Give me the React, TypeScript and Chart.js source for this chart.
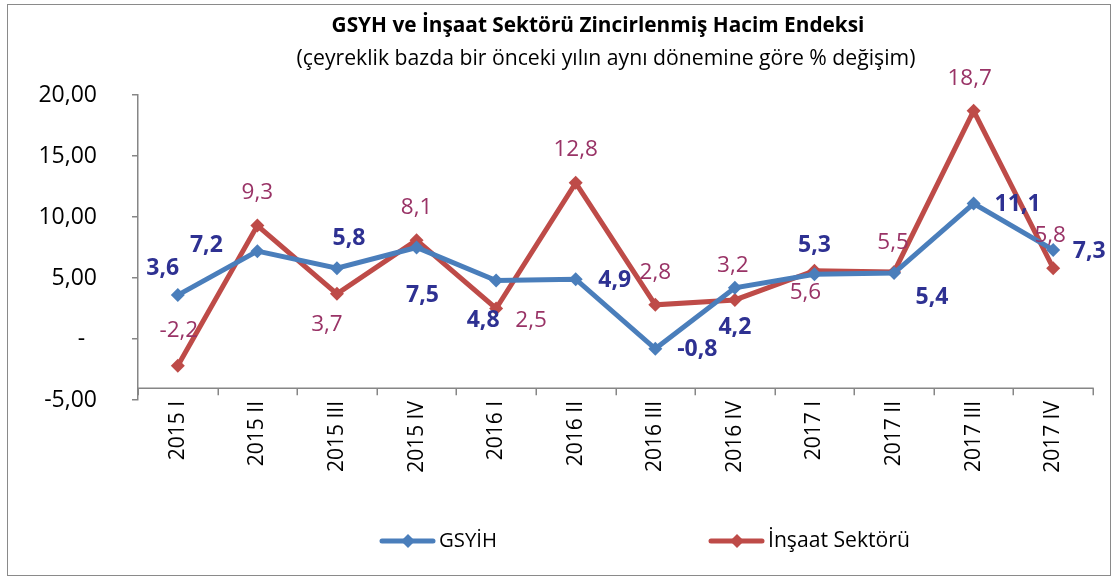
import React, { useEffect, useRef } from "react";
import { Chart, registerables } from "chart.js";

Chart.register(...registerables);

const categories = [
  "2015 I", "2015 II", "2015 III", "2015 IV",
  "2016 I", "2016 II", "2016 III", "2016 IV",
  "2017 I", "2017 II", "2017 III", "2017 IV",
];
const gsyhValues = [3.6, 7.2, 5.8, 7.5, 4.8, 4.9, -0.8, 4.2, 5.3, 5.4, 11.1, 7.3];
const insaatValues = [-2.2, 9.3, 3.7, 8.1, 2.5, 12.8, 2.8, 3.2, 5.6, 5.5, 18.7, 5.8];
const yTickValues = [-5, 0, 5, 10, 15, 20];
const xAxisCrossValue = -4;
const seriesNames = ["GSYİH", "İnşaat Sektörü"];
const titleText = "GSYH ve İnşaat Sektörü Zincirlenmiş Hacim Endeksi";
const subtitleText = "(çeyreklik bazda bir önceki yılın aynı dönemine göre % değişim)";

// data-label placement relative to each point (pixels)
const gsyhLabelOffsets = [
  [-15, -27], [-51, -6], [12, -30], [6, 48], [-13, 40], [39, 1],
  [42, 1], [0, 40], [0, -29], [38, 24], [44, 1], [36, 2],
];
const insaatLabelOffsets = [
  [1, -35], [0, -33], [-10, 31], [0, -33], [35, 12], [0, -33],
  [0, -32], [-2, -34], [-9, 22], [-1, -29], [-4, -32], [-3, -33],
];

const FONT = '"Open Sans", "DejaVu Sans", sans-serif';
const BLUE = "#4A7EBB";
const RED = "#BE4B48";
const BLUE_LABEL = "#2E3192";
const RED_LABEL = "#993366";
const AXIS = "#868686";

const fmt1 = (v: number) => v.toFixed(1).replace(".", ",");
const fmt2 = (v: number) => v.toFixed(2).replace(".", ",");

function fitSize(ctx: CanvasRenderingContext2D, text: string, weight: string, target: number) {
  ctx.font = `${weight} 100px ${FONT}`;
  const w = ctx.measureText(text).width;
  return (100 * target) / w;
}

const framePlugin = {
  id: "frame",
  beforeDraw(chart: any) {
    const ctx = chart.ctx as CanvasRenderingContext2D;
    ctx.save();
    ctx.fillStyle = "#ffffff";
    ctx.fillRect(0, 0, chart.width, chart.height);
    ctx.strokeStyle = "#8a8a8a";
    ctx.lineWidth = 1;
    ctx.strokeRect(7.5, 4.5, 1103, 571);
    ctx.restore();
  },
};

// horizontal category axis crossing the value axis at xAxisCrossValue
const crossAxisPlugin = {
  id: "crossAxis",
  beforeDatasetsDraw(chart: any) {
    const ctx = chart.ctx as CanvasRenderingContext2D;
    const xs = chart.scales.x;
    const ys = chart.scales.y;
    const y = Math.round(ys.getPixelForValue(xAxisCrossValue)) + 0.25;
    ctx.save();
    ctx.strokeStyle = AXIS;
    ctx.lineWidth = 1.5;
    ctx.beginPath();
    ctx.moveTo(xs.left, y);
    ctx.lineTo(xs.right + 0.75, y);
    for (let i = 0; i <= categories.length; i++) {
      const xp = Math.round(xs.getPixelForValue(i - 0.5)) + 0.25;
      ctx.moveTo(xp, y);
      ctx.lineTo(xp, y + 7);
    }
    ctx.stroke();
    ctx.restore();
  },
};

const textPlugin = {
  id: "texts",
  afterDraw(chart: any) {
    const ctx = chart.ctx as CanvasRenderingContext2D;
    ctx.save();
    ctx.fillStyle = "#000";
    ctx.textBaseline = "middle";
    ctx.textAlign = "center";
    let s = fitSize(ctx, titleText, "bold", 533);
    ctx.font = `bold ${s}px ${FONT}`;
    ctx.fillText(titleText, 598, 26);
    s = fitSize(ctx, subtitleText, "normal", 619);
    ctx.font = `normal ${s}px ${FONT}`;
    ctx.fillText(subtitleText, 606, 59);

    // legend
    const entries = [
      { name: seriesNames[0], color: BLUE, x: 380, w: 58 },
      { name: seriesNames[1], color: RED, x: 709, w: 142 },
    ];
    const ly = 541;
    entries.forEach((e) => {
      ctx.strokeStyle = e.color;
      ctx.lineWidth = 5;
      ctx.lineCap = "round";
      ctx.beginPath();
      ctx.moveTo(e.x + 2, ly);
      ctx.lineTo(e.x + 53, ly);
      ctx.stroke();
      ctx.fillStyle = e.color;
      ctx.beginPath();
      const cx = e.x + 28;
      ctx.moveTo(cx, ly - 7);
      ctx.lineTo(cx + 7, ly);
      ctx.lineTo(cx, ly + 7);
      ctx.lineTo(cx - 7, ly);
      ctx.closePath();
      ctx.fill();
      ctx.fillStyle = "#000";
      ctx.textAlign = "left";
      const fs = fitSize(ctx, e.name, "normal", e.w);
      ctx.font = `normal ${fs}px ${FONT}`;
      ctx.fillText(e.name, e.x + 59, ly);
    });
    ctx.restore();
  },
};

const labelPlugin = {
  id: "dataLabels",
  afterDatasetsDraw(chart: any) {
    const ctx = chart.ctx as CanvasRenderingContext2D;
    const conf = [
      { offsets: gsyhLabelOffsets, color: BLUE_LABEL, weight: "bold", size: 23 },
      { offsets: insaatLabelOffsets, color: RED_LABEL, weight: "normal", size: 22.5 },
    ];
    ctx.save();
    ctx.textAlign = "center";
    ctx.textBaseline = "middle";
    chart.data.datasets.forEach((ds: any, di: number) => {
      const meta = chart.getDatasetMeta(di);
      const c = conf[di];
      ctx.fillStyle = c.color;
      ctx.font = `${c.weight} ${c.size}px ${FONT}`;
      meta.data.forEach((el: any, i: number) => {
        const [dx, dy] = c.offsets[i];
        ctx.fillText(fmt1(ds.data[i]), el.x + dx, el.y + dy);
      });
    });
    ctx.restore();
  },
};

export default function App() {
  const ref = useRef<HTMLCanvasElement | null>(null);
  useEffect(() => {
    if (!ref.current) return;
    const chart = new Chart(ref.current, {
      type: "line",
      data: {
        labels: categories,
        datasets: [
          {
            label: seriesNames[0],
            data: gsyhValues,
            borderColor: BLUE,
            backgroundColor: BLUE,
            borderWidth: 5,
            pointStyle: "rectRot",
            pointRadius: 7,
            pointBorderWidth: 0,
            tension: 0,
          },
          {
            label: seriesNames[1],
            data: insaatValues,
            borderColor: RED,
            backgroundColor: RED,
            borderWidth: 5,
            pointStyle: "rectRot",
            pointRadius: 7,
            pointBorderWidth: 0,
            tension: 0,
          },
        ],
      },
      options: {
        animation: false,
        responsive: false,
        devicePixelRatio: 1,
        layout: { padding: { top: 95, left: 0, right: 22, bottom: 0 } },
        plugins: {
          legend: { display: false },
          title: { display: false },
          tooltip: { enabled: false },
        },
        scales: {
          x: {
            type: "category",
            offset: true,
            position: "bottom",
            ticks: {
              minRotation: 90,
              maxRotation: 90,
              autoSkip: false,
              font: { family: FONT, size: 21 },
              color: "#000",
              padding: 1,
            },
            grid: { display: false, drawTicks: false, offset: true },
            border: { display: false },
            afterFit: (s: any) => {
              s.height = 178;
            },
          },
          y: {
            min: -5,
            max: 20,
            afterBuildTicks: (s: any) => {
              s.ticks = yTickValues.map((v) => ({ value: v }));
            },
            ticks: {
              callback: (v: any) => (Number(v) === 0 ? "-  " : fmt2(Number(v))),
              font: { family: FONT, size: 23 },
              color: "#000",
              padding: 35,
            },
            grid: { drawOnChartArea: false, tickLength: 6, color: AXIS, lineWidth: 1.5 },
            border: { color: AXIS, width: 1.5 },
            afterFit: (s: any) => {
              s.width = 138;
            },
          },
        },
      },
      plugins: [framePlugin, crossAxisPlugin, labelPlugin, textPlugin],
    });
    return () => chart.destroy();
  }, []);
  return (
    <div style={{ position: "fixed", left: 0, top: 0, width: 1115, height: 578, background: "#fff" }}>
      <canvas ref={ref} width={1115} height={578} style={{ width: 1115, height: 578, display: "block" }} />
    </div>
  );
}
